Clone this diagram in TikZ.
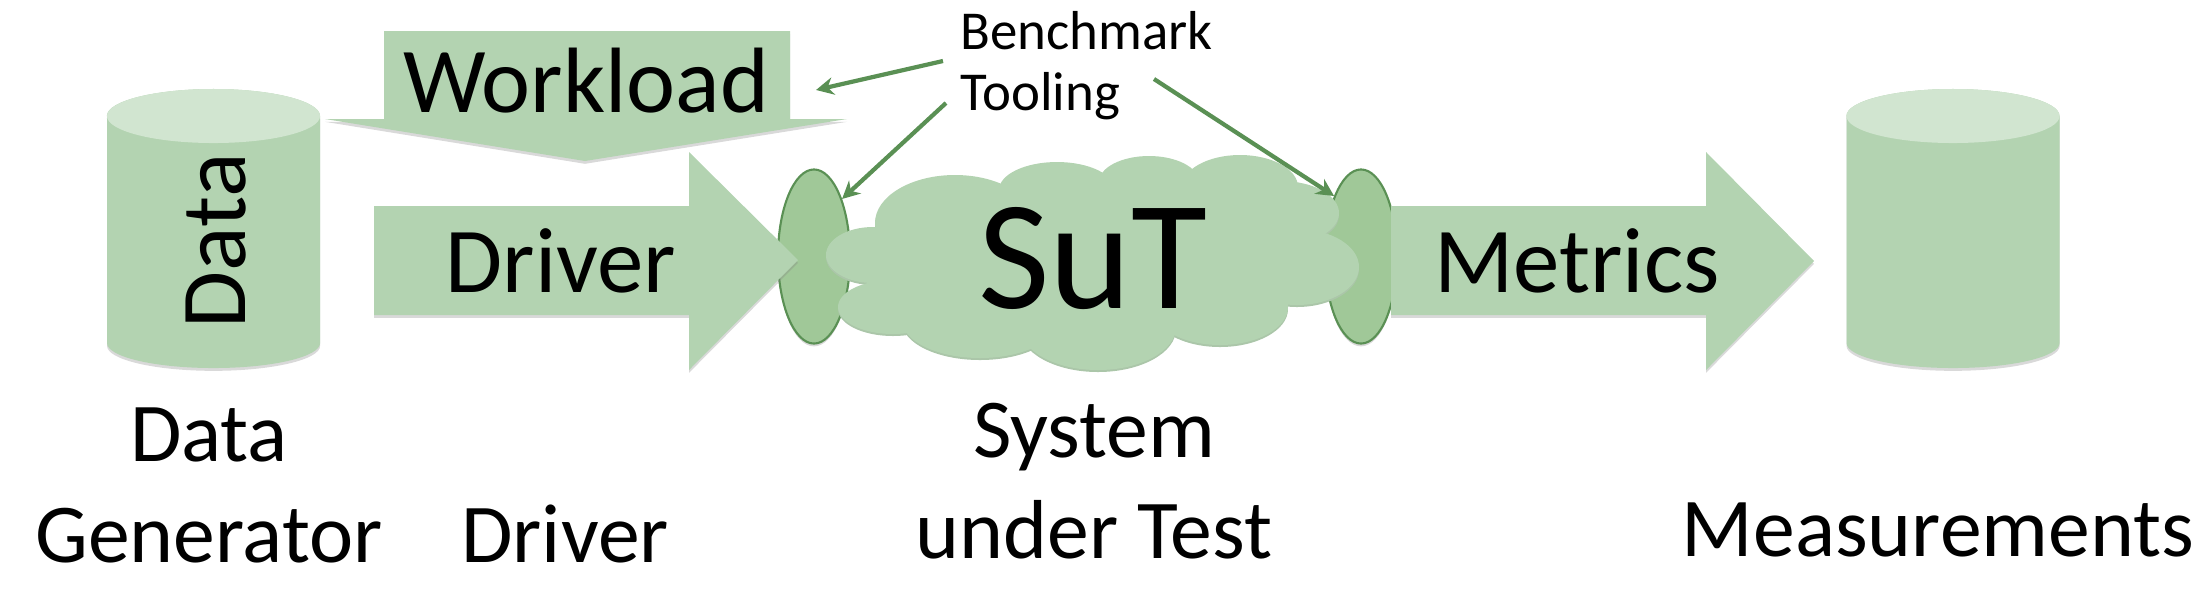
\documentclass[tikz,border=0pt]{standalone}
\usepackage{fontspec}
\setmainfont{Carlito}
\usetikzlibrary{arrows.meta,shadows,shapes.geometric}
\definecolor{palegreen}{HTML}{B3D3B1}
\definecolor{lidgreen}{HTML}{D1E5D0}
\definecolor{hookgreen}{HTML}{A0C898}
\definecolor{linegreen}{HTML}{5A9054}
\definecolor{cloudshade}{HTML}{ABC6A9}
\tikzset{
  softshadow/.style = {drop shadow={shadow xshift=0pt, shadow yshift=-.8pt, opacity=.3}},
  bigshape/.style = {fill=palegreen, softshadow},
  hook/.style = {shape=ellipse, fill=hookgreen, draw=linegreen, line width=.6pt,
    minimum width=.72cm, minimum height=1.74cm, inner sep=0pt, softshadow},
  pointer/.style = {draw=linegreen, line width=1.2pt, -{Stealth[length=5pt,width=5pt]}},
  boxtext/.style = {inner sep=0pt, anchor=base, font=\fontsize{26.4}{30}\selectfont},
  caption/.style = {inner sep=0pt, anchor=base, align=center, font=\fontsize{23.8}{28.7}\selectfont}
}
\begin{document}
\begin{tikzpicture}[x=.01cm, y=-.01cm]
  \useasboundingbox (0,0) rectangle (2206,596);

  \foreach \cx in {213.5,1953} {
    \path[bigshape] (\cx-106.5,116) -- (\cx-106.5,343)
      arc[start angle=180, end angle=360, x radius=1.065cm, y radius=.25cm]
      -- (\cx+106.5,116)
      arc[start angle=0, end angle=180, x radius=1.065cm, y radius=.27cm] -- cycle;
    \fill[lidgreen] (\cx,116) ellipse [x radius=1.065cm, y radius=.27cm];
  }

  \path[bigshape] (384,31) -- (790,31) -- (790,119) -- (847,119) -- (585,161)
    -- (325,119) -- (384,119) -- cycle;

  \node[hook] (hookin) at (814,256.5) {};
  \node[hook] (hookout) at (1361,256.5) {};

  \path[bigshape] (374,206) -- (689,206) -- (689,152) -- (798,260) -- (689,370)
    -- (689,315) -- (374,315) -- cycle;
  \path[bigshape] (1391,206) -- (1706,206) -- (1706,152) -- (1814,261) -- (1706,370)
    -- (1706,315) -- (1391,315) -- cycle;

  % cloud made of overlapping puffs
  \foreach \dy/\puffcolor in {2/cloudshade,0/palegreen} {
    \foreach \cx/\cy/\rx/\ry in {955/223/80/48, 873/255/47/28, 893/307/55/27, 980/320/78/38,
        1098/327/78/43, 1220/307/68/38, 1297/267/62/38, 1281/213/58/32, 1240/187/58/32,
        1149/182/50/26, 1057/190/58/28, 1092/260/210/70}
      \fill[\puffcolor] (\cx,\cy+\dy) ellipse [x radius=\rx*.01cm, y radius=\ry*.01cm];
  }

  \node[boxtext] (workload) at (586,112) {Workload};
  \node[boxtext] (driver) at (561,292) {Driver};
  \node[boxtext] (metrics) at (1577,292) {Metrics};
  \node[boxtext, rotate=90, font=\fontsize{26.4}{30}\selectfont] (data) at (245,241) {Data};
  \node[inner sep=0pt, anchor=base, font=\fontsize{44.3}{50}\selectfont] (sut) at (1093,308) {SuT};

  \node[inner sep=0pt, anchor=base west, align=left,
    font=\fontsize{15.6}{17.1}\selectfont] (tooling) at (960,110) {Benchmark\\Tooling};

  \coordinate (toolA) at (943,61);
  \coordinate (toolB) at (946,103);
  \coordinate (toolC) at (1154,79);
  \coordinate (workloadend) at (816,90);
  \draw[pointer] (toolA) -- (workloadend);
  \draw[pointer] (toolB) -- (hookin.64);
  \draw[pointer] (toolC) -- (hookout.114);

  \node[caption] (gen) at (209,562) {Data\\Generator};
  \node[caption] (drv) at (565,562) {Driver};
  \node[caption] (sys) at (1094,558) {System\\under Test};
  \node[caption] (meas) at (1938,556) {Measurements};
\end{tikzpicture}
\end{document}
